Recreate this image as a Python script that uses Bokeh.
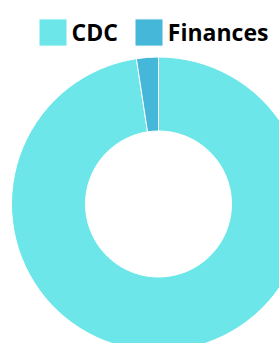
import math
from bokeh.plotting import figure
from bokeh.models import ColumnDataSource, Range1d, Legend, LegendItem
from bokeh.embed import file_html
from bokeh.resources import INLINE

labels = ["CDC", "Finances"]
values = [97.6, 2.4]
colors = ["#6ce6e8", "#45b7d8"]

W, H = 279, 343
total = sum(values)
starts, ends = [], []
cum = 0.0
for v in values:
    starts.append(math.pi / 2 - 2 * math.pi * cum / total)
    cum += v
    ends.append(math.pi / 2 - 2 * math.pi * cum / total)

src = ColumnDataSource(dict(label=labels, value=values, color=colors, start=starts, end=ends))

p = figure(width=W, height=H, output_backend="svg", toolbar_location=None,
           x_range=Range1d(0, W), y_range=Range1d(0, H), min_border=0)
p.axis.visible = False
p.grid.visible = False
p.outline_line_color = None
p.background_fill_color = "white"

cx, cy = 158, H - 203.5
r = p.annular_wedge(x=cx, y=cy, inner_radius=73, outer_radius=147,
                    start_angle="start", end_angle="end", direction="clock",
                    fill_color="color", line_color="white", line_width=1, source=src)

items = [LegendItem(label=labels[i], renderers=[r], index=i) for i in range(len(labels))]
leg = Legend(items=items, orientation="horizontal", location=(34.5, H - 48.5),
             glyph_width=35, glyph_height=34, label_text_font="Open Sans",
             label_text_font_size="23px", label_text_font_style="bold",
             label_text_color="#000000", label_standoff=2, spacing=13,
             label_height=34, padding=0, margin=0, border_line_color=None,
             background_fill_alpha=0)
p.add_layout(leg)

open("out.html", "w").write(file_html(p, INLINE))
